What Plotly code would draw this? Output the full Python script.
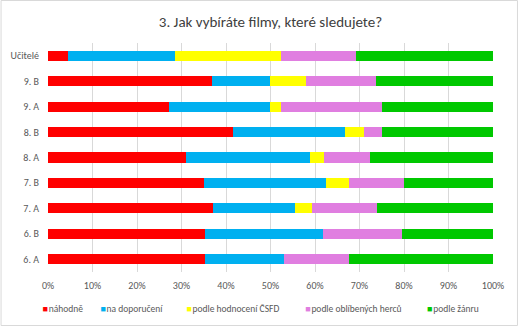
import plotly.graph_objects as go

categories = ["Učitelé", "9. B", "9. A", "8. B", "8. A", "7. B", "7. A", "6. B", "6. A"]
series_names = ["náhodně", "na doporučení", "podle hodnocení ČSFD", "podle oblíbených herců", "podle žánru"]
nahodne = [4.6, 36.8, 27.2, 41.6, 31.1, 35.0, 37.0, 35.2, 35.2]
doporuceni = [24.0, 13.1, 22.7, 25.2, 27.7, 27.5, 18.6, 26.7, 17.9]
csfd = [23.8, 8.0, 2.4, 4.1, 3.3, 5.2, 3.8, 0.0, 0.0]
herci = [16.7, 15.7, 22.7, 4.1, 10.3, 12.4, 14.6, 17.6, 14.6]
zanr = [30.9, 26.4, 25.0, 25.0, 27.6, 19.9, 26.0, 20.5, 32.3]
colors = ["#ff0000", "#00b0f0", "#ffff00", "#e07ee0", "#00c800"]
x_ticks = [0, 10, 20, 30, 40, 50, 60, 70, 80, 90, 100]
title_text = "3. Jak vybíráte filmy, které sledujete?"

W, H = 518, 326
ML, MR, MT, MB = 47.5, 25, 43, 54
pw = W - ML - MR
ph = H - MT - MB

# legend entry positions (pixel x where the coloured square starts)
legend_px = [42, 100, 186, 305, 427]
legend_ypx = 308.5
TEXT_OFFSET = 40  # plotly puts legend text 40px right of the legend's left edge

fig = go.Figure()
layout_legends = {}
for i, (name, vals, col) in enumerate(zip(series_names, [nahodne, doporuceni, csfd, herci, zanr], colors)):
    lname = "legend" if i == 0 else f"legend{i + 1}"
    fig.add_trace(go.Bar(
        y=categories, x=[v / 100 for v in vals], name=name, orientation="h",
        marker=dict(color=col, line=dict(width=0)), legendgroup=name, showlegend=False,
    ))
    fig.add_trace(go.Scatter(
        x=[None], y=[None], mode="markers", legendgroup=name, legend=lname,
        name=f"<span style='color:{col};font-size:9px'>■</span><span style='font-size:3px'> </span>{name}",
        marker=dict(opacity=0, size=0, color="rgba(0,0,0,0)", line=dict(width=0, color="rgba(0,0,0,0)")),
        hoverinfo="skip",
    ))
    layout_legends[lname] = dict(
        orientation="h", x=(legend_px[i] - TEXT_OFFSET - ML) / pw, xanchor="left",
        y=-(legend_ypx - (H - MB)) / ph, yanchor="middle",
        font=dict(size=9.5, color="#595959"), itemwidth=30, bgcolor="rgba(0,0,0,0)",
    )

fig.add_shape(type="rect", xref="paper", yref="paper",
              x0=-ML / pw + 0.5 / pw, x1=1 + MR / pw - 0.5 / pw,
              y0=-MB / ph + 0.5 / ph, y1=1 + MT / ph - 0.5 / ph,
              line=dict(color="#d9d9d9", width=1), layer="below")

fig.update_layout(
    width=W, height=H,
    margin=dict(l=ML, r=MR, t=MT, b=MB, autoexpand=False),
    barmode="stack", bargap=0.6,
    paper_bgcolor="white", plot_bgcolor="white",
    font=dict(family="Carlito, Calibri, Lato, sans-serif", color="#595959"),
    title=dict(text=title_text, x=0.5, xanchor="center", xref="paper", y=1 - 22 / H, yanchor="middle",
               font=dict(size=15, color="#404040", family="Carlito, Calibri, Lato, sans-serif")),
    xaxis=dict(range=[0, 1], tickvals=[t / 100 for t in x_ticks], ticktext=[f"{t}%" for t in x_ticks],
               showgrid=True, gridcolor="#d9d9d9", gridwidth=1, zeroline=False,
               showline=False, ticks="", tickfont=dict(size=10, color="#595959"), ticklabelstandoff=6),
    yaxis=dict(autorange="reversed", showgrid=False, ticks="", showline=False,
               tickfont=dict(size=10, color="#595959"), ticklabelstandoff=8),
    showlegend=True,
    **layout_legends,
)
fig.write_html("out.html")
